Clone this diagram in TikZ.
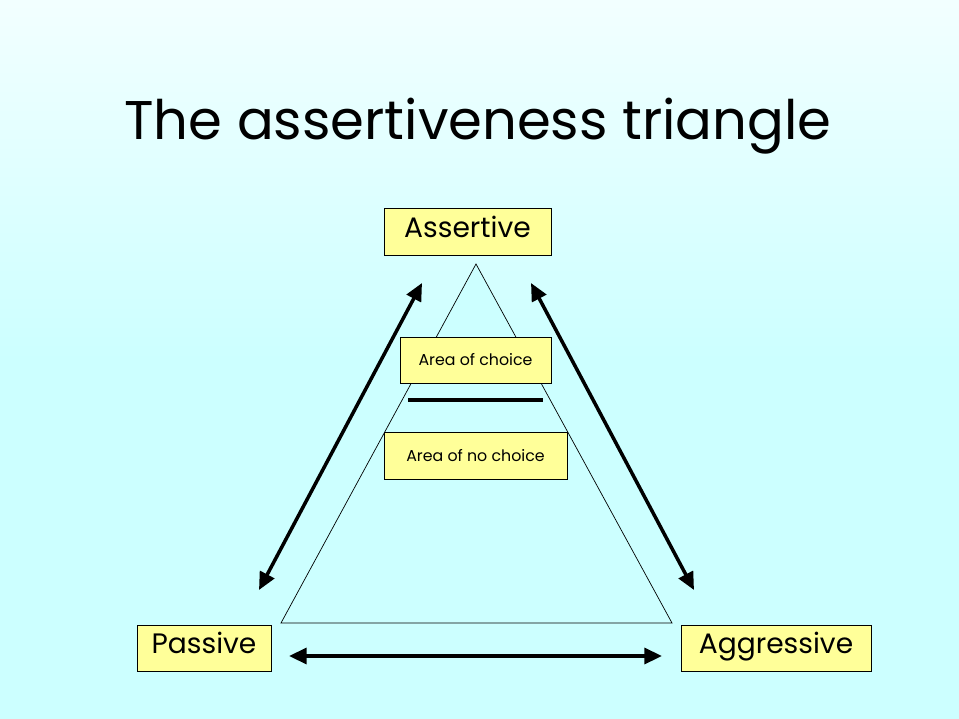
\documentclass[tikz,border=0pt]{standalone}
\usepackage{fontspec}
\setmainfont{Poppins}
\usetikzlibrary{arrows.meta}
\definecolor{bgc}{RGB}{204,255,255}
\definecolor{boxc}{RGB}{255,255,153}
\tikzset{lbl/.style={draw=black,fill=boxc,line width=0.5pt,inner sep=0pt,text height=1.6ex,text depth=0.4ex},
arr/.style={line width=2pt,{Triangle[length=10pt,width=9pt]}-{Triangle[length=10pt,width=9pt]}}}
\begin{document}
\begin{tikzpicture}[x=0.02cm,y=-0.02cm]
\useasboundingbox (0,0) rectangle (959,719);
\shade[top color=white!75!bgc,bottom color=bgc] (0,0) rectangle (959,360);
\fill[bgc] (0,359) rectangle (959,719);
\node[font=\fontsize{31}{38}\selectfont] (title) at (478,126) {The assertiveness triangle};
\draw[fill=bgc,line width=0.4pt] (476,264) -- (281,623) -- (672,623) -- cycle;
\node[lbl,minimum width=3.34cm,minimum height=0.94cm,font=\fontsize{16}{20}\selectfont] (as) at (467.5,231.5) {Assertive};
\node[lbl,minimum width=2.68cm,minimum height=0.92cm,font=\fontsize{16}{20}\selectfont] (pa) at (204,648) {Passive};
\node[lbl,minimum width=3.8cm,minimum height=0.92cm,font=\fontsize{16}{20}\selectfont] (ag) at (776,648) {Aggressive};
\node[lbl,minimum width=3.02cm,minimum height=0.92cm,font=\fontsize{9}{11}\selectfont] (ch) at (475.5,360) {Area of choice};
\node[lbl,minimum width=3.66cm,minimum height=0.94cm,font=\fontsize{9}{11}\selectfont] (nc) at (475.5,455.5) {Area of no choice};
\coordinate (l1) at (408,400); \coordinate (l2) at (543,400);
\draw[line width=2pt] (l1) -- (l2);
\coordinate (a1) at (422,283); \coordinate (a2) at (259,590);
\coordinate (b1) at (531,283); \coordinate (b2) at (694,590);
\coordinate (c1) at (289,656); \coordinate (c2) at (662,656);
\draw[arr] (a1) -- (a2);
\draw[arr] (b1) -- (b2);
\draw[arr] (c1) -- (c2);
\end{tikzpicture}
\end{document}
